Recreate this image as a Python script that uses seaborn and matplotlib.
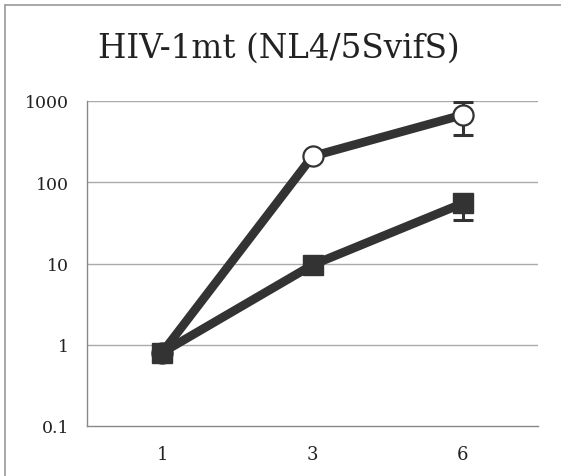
import matplotlib
matplotlib.use("Agg")
import matplotlib.pyplot as plt
import seaborn as sns
import numpy as np
import pandas as pd
from matplotlib.lines import Line2D

days = ["1", "3", "6"]
open_vals = [0.8, 209, 675]
open_err_low = [0.0, 0.0, 290]
open_err_high = [0.0, 0.0, 290]
filled_vals = [0.8, 9.6, 55]
filled_err_low = [0.0, 0.0, 21]
filled_err_high = [0.0, 0.0, 12]
yticks = [0.1, 1, 10, 100, 1000]
ytick_labels = ["0.1", "1", "10", "100", "1000"]
title = "HIV-1mt (NL4/5SvifS)"

sns.set_theme(style="white")
plt.rcParams["font.family"] = ["DejaVu Serif", "Liberation Serif"]

dark = "#333333"
fig = plt.figure(figsize=(5.61, 4.77), dpi=100)
ax = fig.add_axes([87/561, 1-427/477, (538-87)/561, (427-102)/477])

pos = np.arange(len(days))
df_open = pd.DataFrame({"x": pos, "y": open_vals})
df_fill = pd.DataFrame({"x": pos, "y": filled_vals})

ax.errorbar(pos, open_vals, yerr=[open_err_low, open_err_high], fmt="none", ecolor=dark,
            elinewidth=2.2, capsize=7, capthick=2.2, zorder=3)
ax.errorbar(pos, filled_vals, yerr=[filled_err_low, filled_err_high], fmt="none", ecolor=dark,
            elinewidth=2.2, capsize=7, capthick=2.2, zorder=3)

sns.lineplot(data=df_open, x="x", y="y", ax=ax, color=dark, linewidth=6.3,
             marker="o", markersize=14.5, markerfacecolor="white",
             markeredgecolor=dark, markeredgewidth=1.6, zorder=4)
sns.lineplot(data=df_fill, x="x", y="y", ax=ax, color=dark, linewidth=6.3,
             marker="s", markersize=15, markerfacecolor=dark,
             markeredgecolor=dark, markeredgewidth=1, zorder=5)

ax.set_yscale("log")
ax.set_ylim(0.1, 1000)
ax.set_xlim(-0.5, 2.5)
ax.set_yticks(yticks)
ax.set_yticklabels(ytick_labels)
ax.yaxis.set_minor_locator(matplotlib.ticker.NullLocator())
ax.set_xticks(pos)
ax.set_xticklabels(days)
ax.set_xticks([-0.5, 0.5, 1.5, 2.5], minor=True)
ax.tick_params(axis="x", which="major", length=0, pad=14, labelsize=13, colors="#222222")
ax.tick_params(axis="x", which="minor", length=5, width=1, color="#888888", direction="out")
ax.tick_params(axis="y", which="major", length=5, width=1, color="#888888", direction="out",
               pad=8, labelsize=12.5, labelcolor="#222222")
ax.set_xlabel("")
ax.set_ylabel("")
ax.grid(False)
for yv in [1, 10, 100, 1000]:
    ax.axhline(yv, color="#aaaaaa", linewidth=1, zorder=1)
for s in ["top", "right"]:
    ax.spines[s].set_visible(False)
for s in ["left", "bottom"]:
    ax.spines[s].set_color("#888888")
    ax.spines[s].set_linewidth(1)

fig.text(279/561, 1-49/477, title, ha="center", va="center", fontsize=23.5, color="#222222")

fig.add_artist(Line2D([5/561, 5/561], [0, 1-6/477], transform=fig.transFigure, color="#999999", lw=1.2))
fig.add_artist(Line2D([5/561, 1.01], [1-6/477, 1-6/477], transform=fig.transFigure, color="#999999", lw=1.2))

fig.savefig("out.png", dpi=100)
